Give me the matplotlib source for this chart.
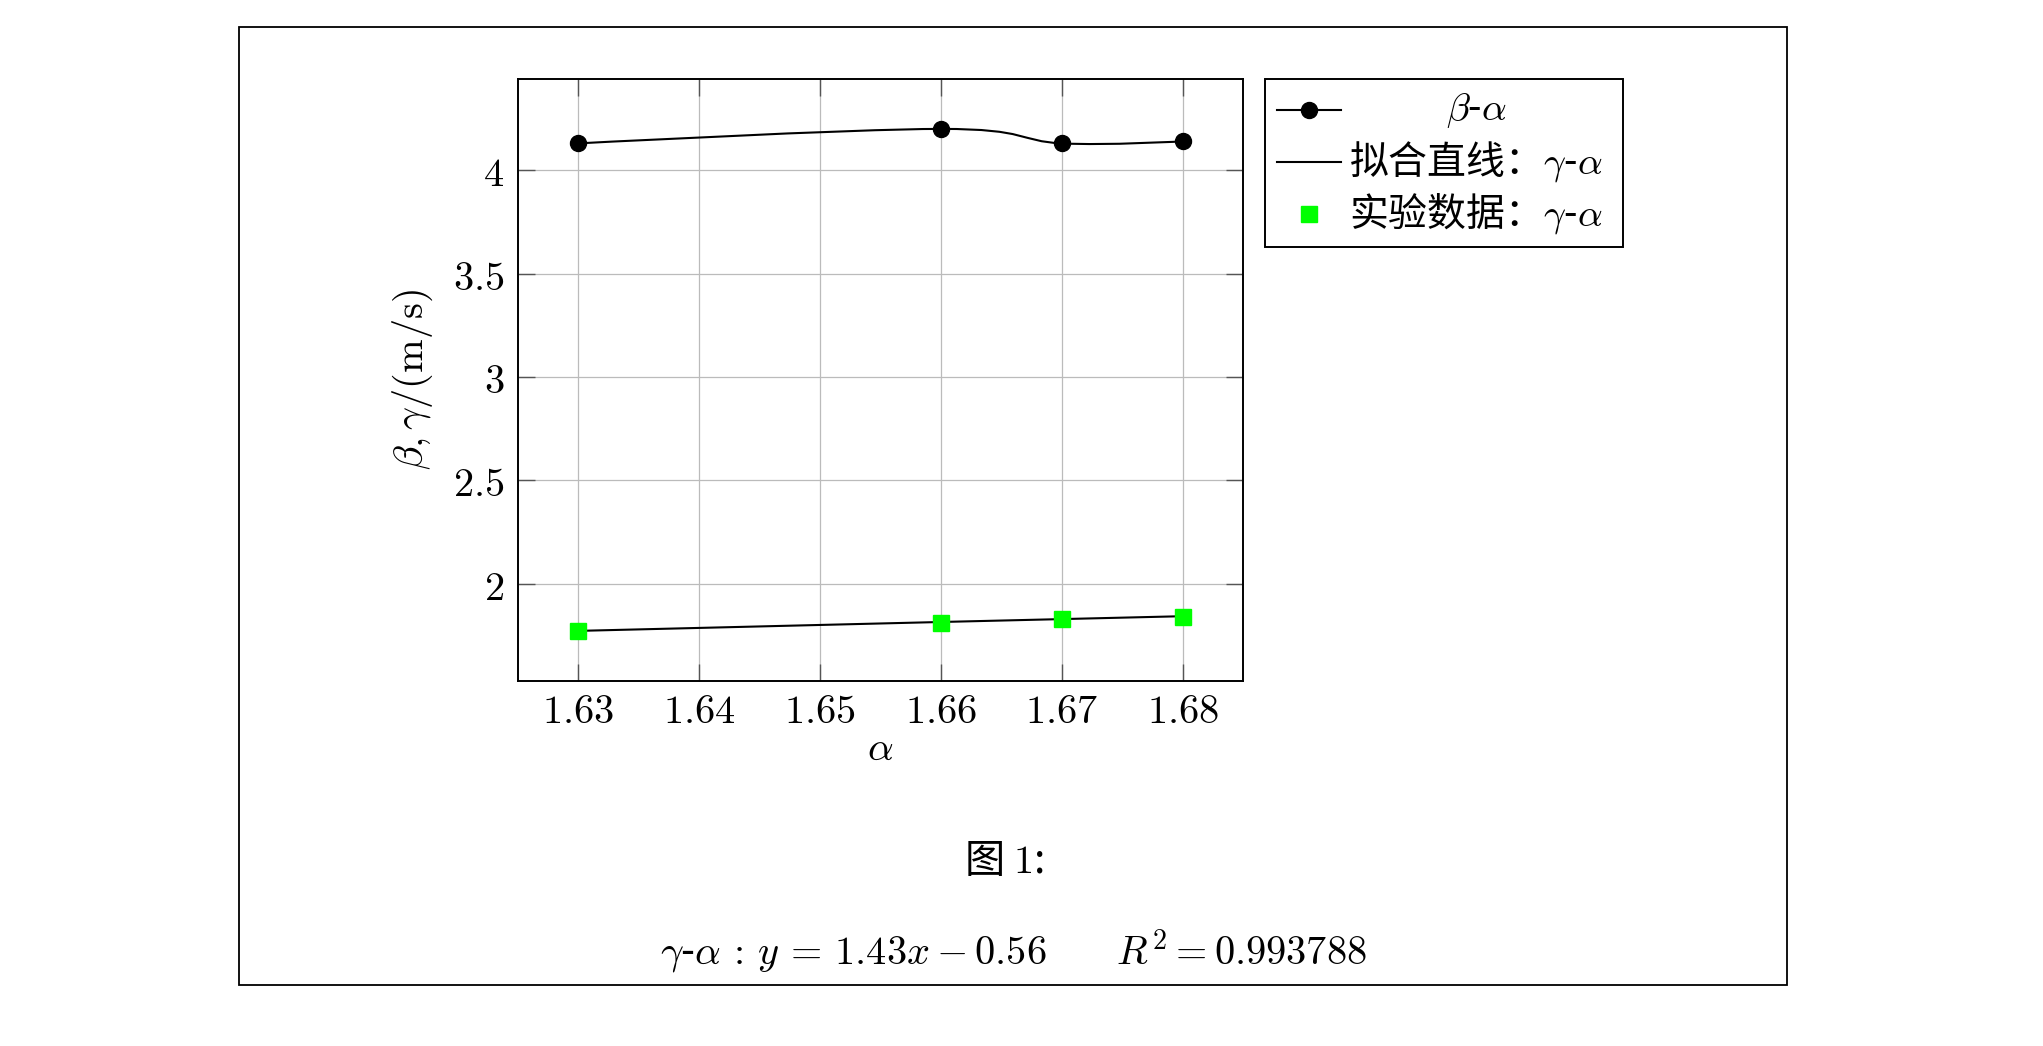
import numpy as np
import matplotlib
matplotlib.use("Agg")
import matplotlib.pyplot as plt
from matplotlib.path import Path
from matplotlib.patches import PathPatch, Rectangle
from matplotlib.lines import Line2D

plt.rcParams['font.family'] = ['Noto Sans CJK SC', 'DejaVu Sans']
plt.rcParams['mathtext.fontset'] = 'cm'

# data
alpha = [1.63, 1.66, 1.67, 1.68]
beta = [4.13, 4.20, 4.13, 4.14]          # beta-alpha, smooth line with dots
gamma_fit = [1.771, 1.814, 1.828, 1.842]  # fitted line gamma-alpha
gamma_exp = [1.77, 1.81, 1.83, 1.84]      # experiment points gamma-alpha

x_ticks = [1.63, 1.64, 1.65, 1.66, 1.67, 1.68]
y_ticks = [2, 2.5, 3, 3.5, 4]

legend_labels = [r'$\beta$-$\alpha$', r'拟合直线：$\gamma$-$\alpha$', r'实验数据：$\gamma$-$\alpha$']
caption = r'图 $1$:'
equation = r'$\gamma$-$\alpha \,:\, y \,=\, 1.43x - 0.56 \qquad R^2 = 0.993788$'

W, H = 2043, 1046
fig = plt.figure(figsize=(W / 100, H / 100), dpi=100)


def fx(px):
    return px / W


def fy(py):
    return 1 - py / H


# page frame
fig.add_artist(Rectangle((fx(239), fy(984.5)), fx(1787) - fx(239), fy(27.3) - fy(984.5),
                         transform=fig.transFigure, fill=False, lw=1.3, ec='black'))

ax = fig.add_axes([fx(518), fy(681.3), fx(1243) - fx(518), fy(78.7) - fy(681.3)])
ax.set_xlim(1.625, 1.685)
ax.set_ylim(1.527, 4.443)
ax.set_xticks(x_ticks)
ax.set_yticks(y_ticks)
ax.set_xticklabels([f'${v:g}$' for v in x_ticks])
ax.set_yticklabels([f'${v:g}$' for v in y_ticks])
ax.tick_params(direction='in', length=12, width=1.0, color='#555555', labelsize=29,
               top=True, right=True, pad=10)
ax.tick_params(axis='x', pad=7)
ax.grid(True, color='#bbbbbb', lw=0.9)
ax.set_axisbelow(True)
for s in ax.spines.values():
    s.set_linewidth(1.4)

# smooth curve (tikz style bezier) through the beta points
t = 0.55 / 3
pts = np.column_stack([alpha, beta])
verts = [tuple(pts[0])]
codes = [Path.MOVETO]
n = len(pts)
for i in range(n - 1):
    p0 = pts[i]
    p1 = pts[i + 1]
    c1 = p0 if i == 0 else p0 + t * (pts[i + 1] - pts[i - 1])
    c2 = p1 if i + 1 == n - 1 else p1 - t * (pts[i + 2] - pts[i])
    verts += [tuple(c1), tuple(c2), tuple(p1)]
    codes += [Path.CURVE4] * 3
ax.add_patch(PathPatch(Path(verts, codes), fill=False, lw=1.5, ec='black', zorder=3))
ax.plot(alpha, beta, 'o', color='black', ms=11.5, zorder=4)

ax.plot(alpha, gamma_fit, '-', color='black', lw=1.5, zorder=3)
ax.plot(alpha, gamma_exp, 's', color='#00ff00', ms=11, mec='#00ff00', ls='none', zorder=4)

ax.set_xlabel(r'$\alpha$', fontsize=29, labelpad=-3)
ax.set_ylabel(r'$\beta, \gamma/(\mathrm{m/s})$', fontsize=29, labelpad=13)

# legend box drawn by hand (entries centred like pgfplots)
fig.add_artist(Rectangle((fx(1265), fy(247)), fx(1623) - fx(1265), fy(79) - fy(247),
                         transform=fig.transFigure, fill=False, lw=1.4, ec='black'))
rows = [110, 162, 214]
fig.add_artist(Line2D([fx(1277), fx(1341)], [fy(rows[0])] * 2, transform=fig.transFigure,
                      color='black', lw=1.5))
fig.add_artist(Line2D([fx(1309)], [fy(rows[0])], transform=fig.transFigure,
                      marker='o', color='black', ms=11.5))
fig.add_artist(Line2D([fx(1277), fx(1341)], [fy(rows[1])] * 2, transform=fig.transFigure,
                      color='black', lw=1.5))
fig.add_artist(Line2D([fx(1309)], [fy(rows[2])], transform=fig.transFigure,
                      marker='s', color='#00ff00', ms=11, ls='none'))
for r, lab in zip(rows, legend_labels):
    fig.text(fx(1476), fy(r), lab, fontsize=28, ha='center', va='center')

fig.text(fx(1004), fy(862), caption, fontsize=29, ha='center', va='center')
fig.text(fx(1013), fy(952), equation, fontsize=29, ha='center', va='center')

fig.savefig('out.png', dpi=100)
